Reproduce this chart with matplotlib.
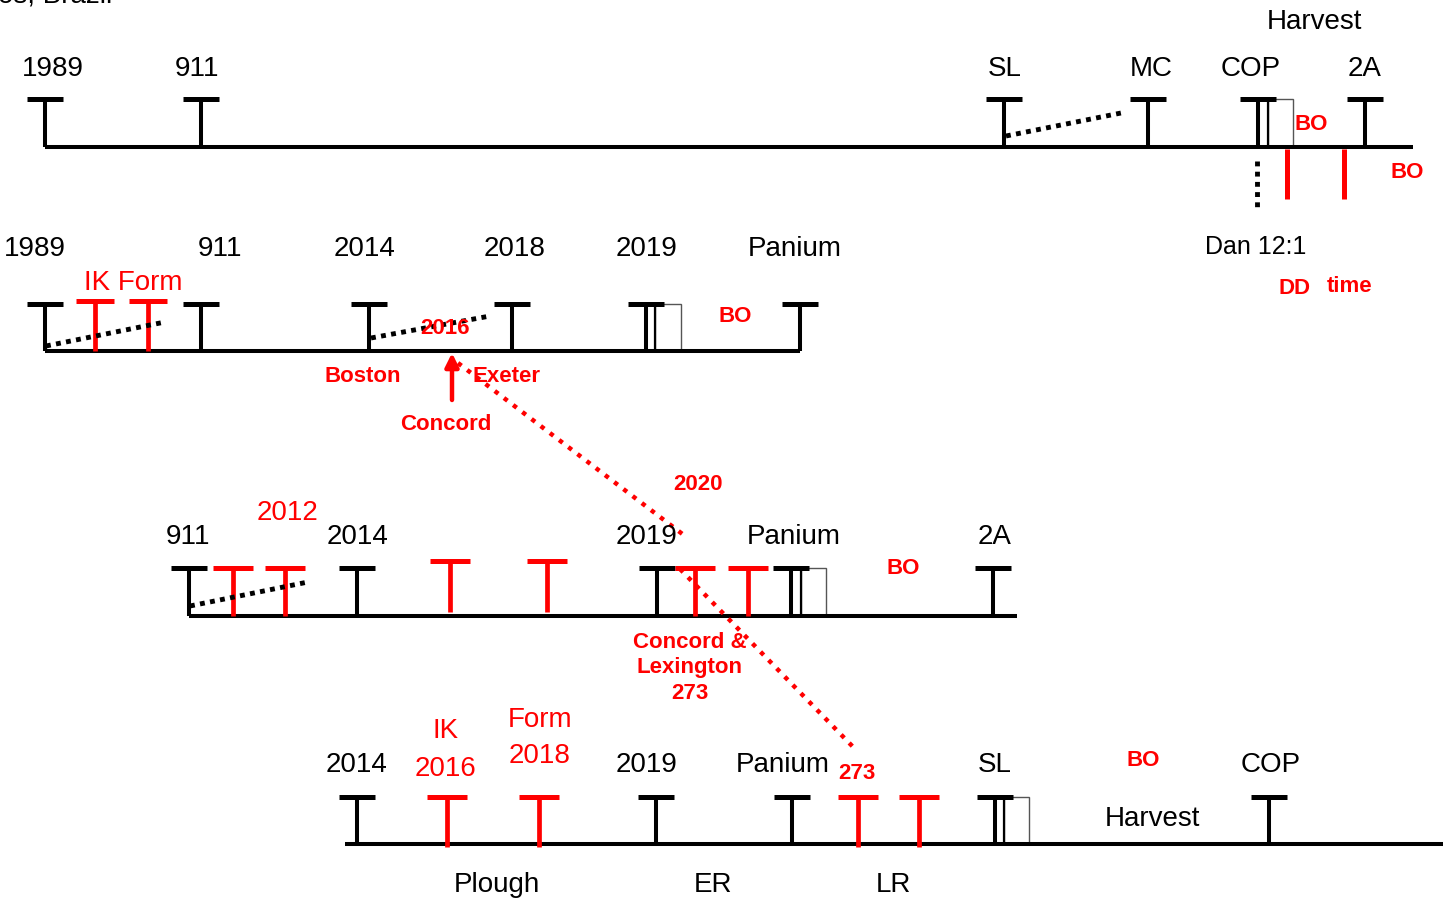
import matplotlib
matplotlib.use("Agg")
import matplotlib.pyplot as plt
from matplotlib.patches import Rectangle

plt.rcParams['font.family'] = ['Liberation Sans Narrow', 'Liberation Sans', 'DejaVu Sans']

# ---- timeline data (positions along each line) ----
row1_y, row1_top = 148, 100
row1_span = (45, 1413)
row1_black = [45, 201, 1004, 1148, 1258, 1365]
row1_labels = ["1989", "911", "SL", "MC", "COP", "2A"]
row1_label_x = [53, 197, 1005, 1151, 1251, 1365]

row2_y, row2_top = 352, 305
row2_span = (45, 800)
row2_black = [45, 201, 369, 512, 646, 800]
row2_red = [95, 148]
row2_labels = ["1989", "911", "2014", "2018", "2019", "Panium"]
row2_label_x = [35, 220, 365, 515, 647, 795]

row3_y, row3_top = 617, 569
row3_span = (189, 1017)
row3_black = [189, 357, 657, 791, 993]
row3_red = [233, 285, 695, 748]
row3_red_raised = [450, 547]
row3_labels = ["911", "2014", "2019", "Panium", "2A"]
row3_label_x = [188, 358, 647, 794, 995]

row4_y, row4_top = 845, 798
row4_span = (345, 1443)
row4_black = [357, 656, 792, 995, 1269]
row4_red = [447, 539, 858, 919]
row4_labels = ["2014", "2019", "Panium", "SL", "COP"]
row4_label_x = [357, 647, 783, 995, 1271]

# boxes after a marker: (left, right, top, baseline)
boxes = [(1268, 1293, row1_top, row1_y), (655, 681, row2_top, row2_y),
         (801, 826, row3_top, row3_y), (1004, 1029, row4_top, row4_y)]

# dotted black trend segments
black_dots = [((1006, 137), (1126, 113)), ((46, 347), (165, 323)),
              ((371, 339), (490, 317)), ((190, 607), (308, 583))]
# red dotted links between rows
red_dots = [((458, 364), (685, 537)), ((680, 570), (857, 752))]

fig = plt.figure(figsize=(14.43, 9.03), dpi=100)
ax = fig.add_axes([0, 0, 1, 1])
ax.set_xlim(0, 1443)
ax.set_ylim(903, 0)
ax.axis('off')

LW = 2.9


def tee(x, base, top, color='black', half=18, lw=LW):
    ax.plot([x, x], [base, top], color=color, lw=lw, solid_capstyle='butt')
    ax.plot([x - half, x + half], [top, top], color=color, lw=3.6, solid_capstyle='butt')


for (x0, x1), y in [(row1_span, row1_y), (row2_span, row2_y), (row3_span, row3_y), (row4_span, row4_y)]:
    ax.plot([x0, x1], [y, y], color='black', lw=LW, solid_capstyle='butt')

for x in row1_black:
    tee(x, row1_y, row1_top)
for x in row2_black:
    tee(x, row2_y, row2_top)
for x in row2_red:
    tee(x, row2_y, row2_top - 3, color='red', half=19, lw=3.4)
for x in row3_black:
    tee(x, row3_y, row3_top)
for x in row3_red:
    tee(x, row3_y, row3_top, color='red', half=20, lw=3.4)
for x in row3_red_raised:
    tee(x, row3_y - 4, row3_top - 7, color='red', half=20, lw=3.4)
for x in row4_black:
    tee(x, row4_y, row4_top)
for x in row4_red:
    tee(x, row4_y + 3, row4_top, color='red', half=20, lw=3.4)

for x0, x1, top, base in boxes:
    ax.add_patch(Rectangle((x0, top), x1 - x0, base - top, fill=False,
                           edgecolor='#555555', lw=1.0))
    ax.plot([x0, x0], [top + 2, base], color='black', lw=1.6)

for (xa, ya), (xb, yb) in black_dots:
    ax.plot([xa, xb], [ya, yb], color='black', lw=3.5, linestyle=(0, (1, 1.1)),
            dash_capstyle='butt')
for (xa, ya), (xb, yb) in red_dots:
    ax.plot([xa, xb], [ya, yb], color='red', lw=3.2, linestyle=(0, (1, 1.6)),
            dash_capstyle='butt')

# row 1 extras below the line
ax.plot([1257, 1257], [162, 208], color='black', lw=3.5, linestyle=(0, (1, 1.1)),
        dash_capstyle='butt')
for x in [1287, 1344]:
    ax.plot([x, x], [150, 200], color='red', lw=3.6, solid_capstyle='butt')

# up arrow to Concord
ax.annotate('', xy=(452, 354), xytext=(452, 401),
            arrowprops=dict(arrowstyle='-|>', color='red', lw=3.2, mutation_scale=20,
                            shrinkA=0, shrinkB=0))

BIG = 20
SMALL = 16
DY = 2  # text sits a touch lower in the reference


def black(x, y, s, size=BIG):
    ax.text(x, y + DY, s, ha='center', va='center', fontsize=size, color='black')


def red(x, y, s, size=SMALL, bold=True):
    ax.text(x, y + DY, s, ha='center', va='center', fontsize=size, color='red',
            fontweight='bold' if bold else 'normal', linespacing=1.3)


ax.text(112, -4, "os, Brazil", ha='right', va='center', fontsize=BIG)

for lab_x, lab, y in ([(a, b, 67) for a, b in zip(row1_label_x, row1_labels)]
                      + [(a, b, 247) for a, b in zip(row2_label_x, row2_labels)]
                      + [(a, b, 535) for a, b in zip(row3_label_x, row3_labels)]
                      + [(a, b, 763) for a, b in zip(row4_label_x, row4_labels)]):
    black(lab_x, y, lab)

black(1314, 20, "Harvest")
black(1256, 245, "Dan 12:1", size=18)
black(1152, 817, "Harvest")
black(497, 883, "Plough")
black(713, 883, "ER")
black(893, 883, "LR")

red(1311, 123, "BO")
red(1407, 171, "BO")
red(1295, 287, "DD")
red(1350, 285, "time")
red(133, 281, "IK Form", size=BIG, bold=False)
red(445, 327, "2016")
red(735, 315, "BO")
red(363, 375, "Boston")
red(507, 375, "Exeter")
red(446, 423, "Concord")
red(698, 483, "2020")
red(287, 511, "2012", size=BIG, bold=False)
red(903, 567, "BO")
red(690, 666, "Concord &\nLexington\n273")
red(446, 729, "IK", size=BIG, bold=False)
red(446, 767, "2016", size=BIG, bold=False)
red(540, 718, "Form", size=BIG, bold=False)
red(540, 754, "2018", size=BIG, bold=False)
red(857, 772, "273")
red(1143, 759, "BO")

fig.savefig("out.png", dpi=100)
